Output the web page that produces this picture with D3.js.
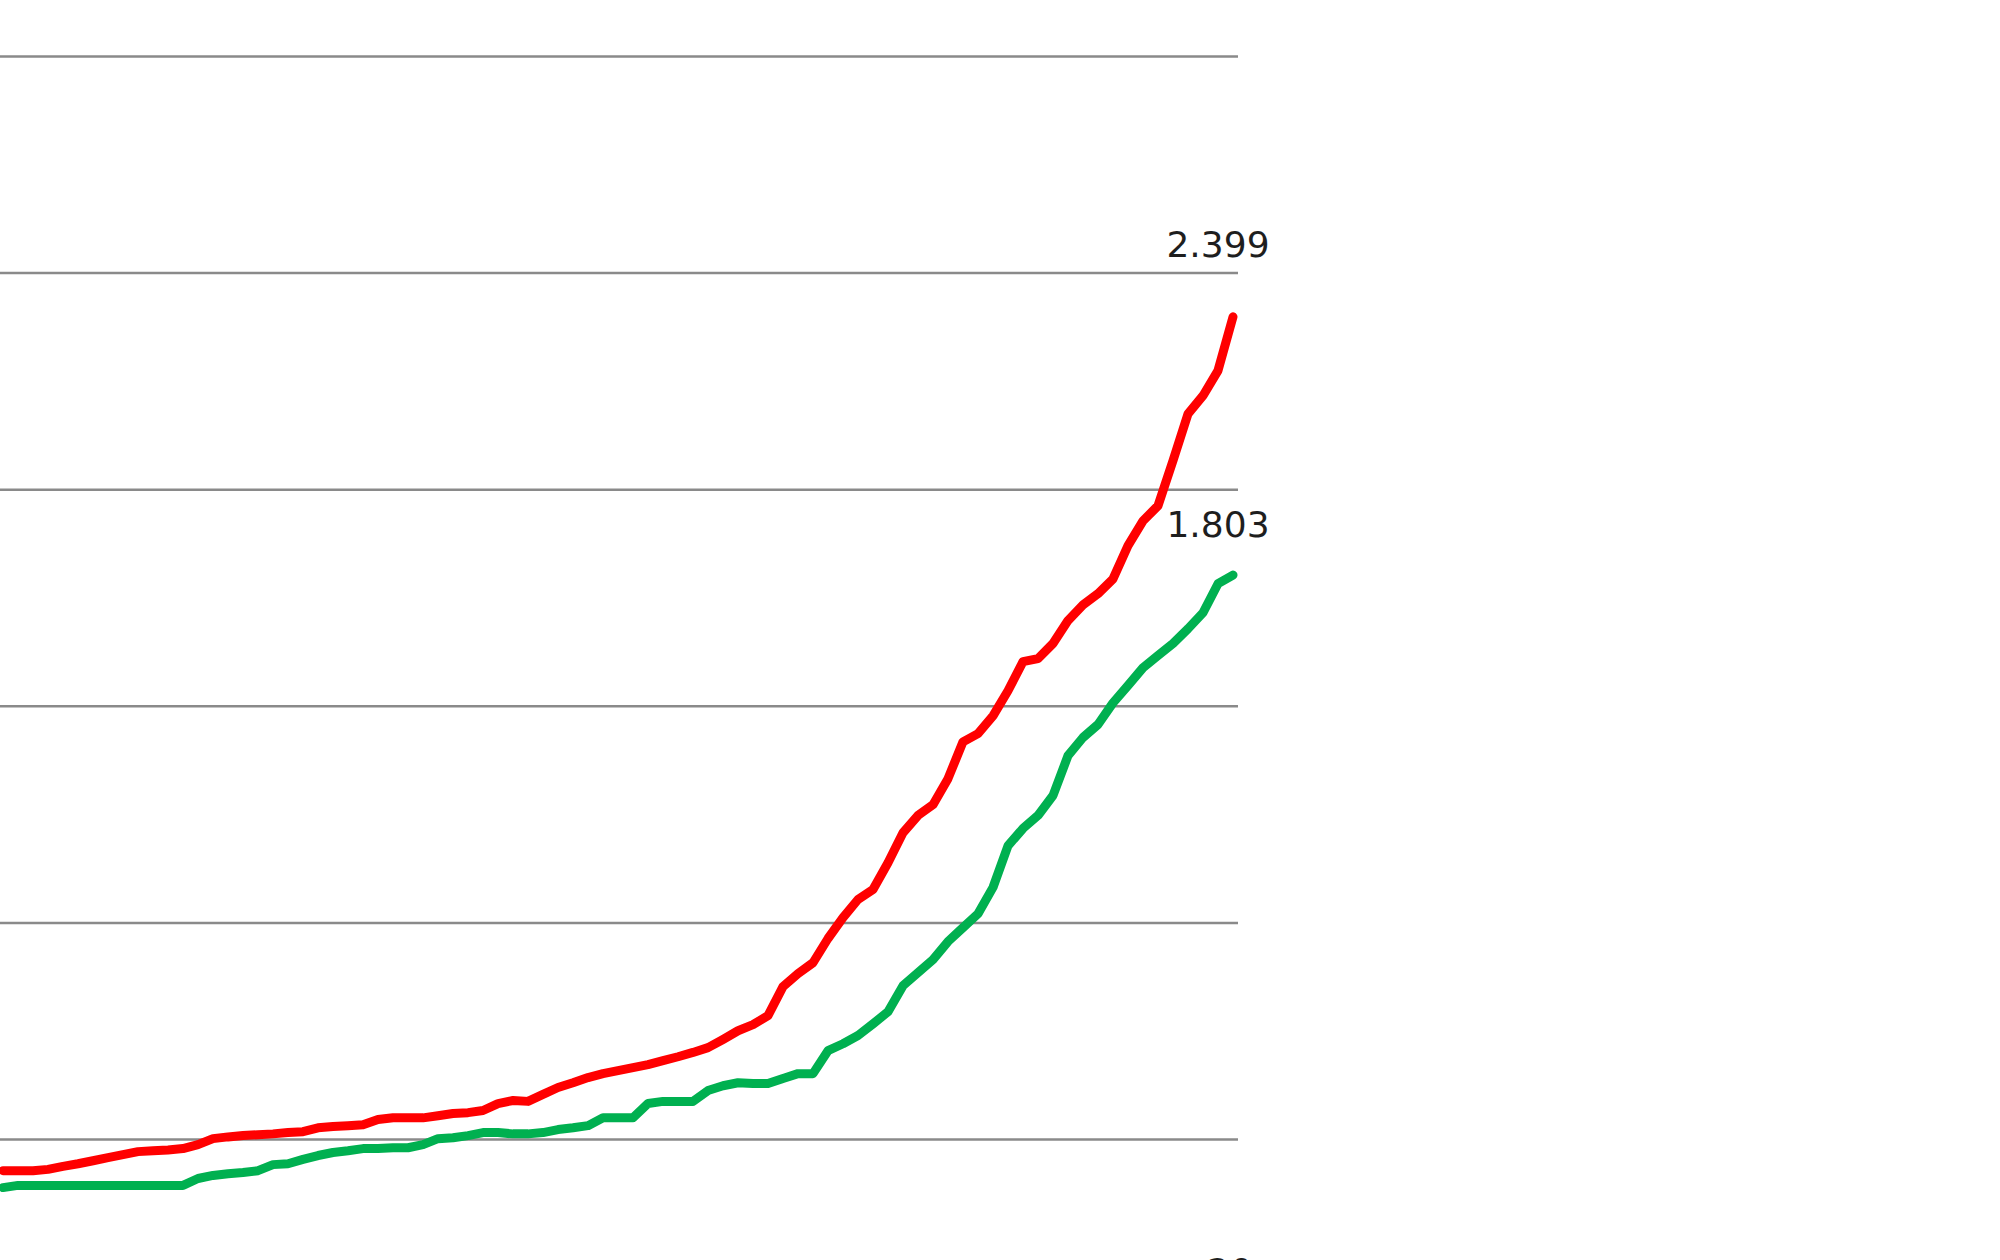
<!DOCTYPE html>
<html>
<head>
<meta charset="utf-8">
<script src="https://cdn.jsdelivr.net/npm/d3@7"></script>
<style>
  html, body { margin: 0; padding: 0; background: #ffffff; }
  svg { display: block; }
</style>
</head>
<body>
<svg id="chart" width="2000" height="1260"></svg>
<script>
// ---- data ----
const gridValues = [0.5, 1.0, 1.5, 2.0, 2.5, 3.0];

const redValues = [
  0.428, 0.428, 0.428, 0.431, 0.438, 0.444, 0.451, 0.458, 0.465, 0.472,
  0.474, 0.476, 0.479, 0.488, 0.502, 0.506, 0.509, 0.511, 0.513, 0.516,
  0.518, 0.527, 0.530, 0.532, 0.534, 0.546, 0.550, 0.550, 0.550, 0.555,
  0.560, 0.562, 0.567, 0.583, 0.590, 0.588, 0.604, 0.620, 0.631, 0.643,
  0.652, 0.659, 0.666, 0.673, 0.682, 0.691, 0.701, 0.712, 0.731, 0.751,
  0.765, 0.786, 0.853, 0.883, 0.908, 0.964, 1.012, 1.054, 1.077, 1.139,
  1.208, 1.248, 1.273, 1.333, 1.418, 1.437, 1.478, 1.536, 1.603, 1.610,
  1.645, 1.698, 1.734, 1.760, 1.794, 1.871, 1.928, 1.963, 2.067, 2.175,
  2.217, 2.275, 2.399
];

const greenValues = [
  0.389, 0.394, 0.394, 0.394, 0.394, 0.394, 0.394, 0.394, 0.394, 0.394,
  0.394, 0.394, 0.394, 0.410, 0.417, 0.421, 0.424, 0.428, 0.442, 0.444,
  0.454, 0.463, 0.470, 0.474, 0.479, 0.479, 0.481, 0.481, 0.488, 0.502,
  0.504, 0.509, 0.516, 0.516, 0.513, 0.513, 0.516, 0.523, 0.527, 0.532,
  0.550, 0.550, 0.550, 0.583, 0.588, 0.588, 0.588, 0.613, 0.624, 0.631,
  0.629, 0.629, 0.641, 0.652, 0.652, 0.705, 0.721, 0.740, 0.767, 0.795,
  0.855, 0.885, 0.915, 0.957, 0.989, 1.021, 1.082, 1.178, 1.218, 1.248,
  1.294, 1.386, 1.428, 1.458, 1.508, 1.548, 1.589, 1.617, 1.645, 1.679,
  1.716, 1.783, 1.803
];

const categories = redValues.map((d, i) => i);
const lastCategoryLabel = "20";

// ---- layout ----
const svg = d3.select("#chart");
const W = 2000, H = 1260;
svg.append("rect").attr("width", W).attr("height", H).attr("fill", "#ffffff");

const x = d3.scaleLinear()
  .domain([0, categories.length - 1])
  .range([3, 1233]);

const y = d3.scaleLinear()
  .domain([0.5, 3.0])
  .range([1139.5, 56.5]);

// gridlines
svg.append("g").selectAll("line")
  .data(gridValues)
  .join("line")
  .attr("x1", -10)
  .attr("x2", 1238)
  .attr("y1", d => y(d))
  .attr("y2", d => y(d))
  .attr("stroke", "#8a8a8a")
  .attr("stroke-width", 2.5);

const line = d3.line()
  .x((d, i) => x(categories[i]))
  .y(d => y(d));

const series = [
  { values: redValues, color: "#ff0000", labelDy: -60 },
  { values: greenValues, color: "#00b050", labelDy: -38 }
];

// draw green first so red is on top where they touch
[series[1], series[0]].forEach(s => {
  svg.append("path")
    .datum(s.values)
    .attr("d", line)
    .attr("fill", "none")
    .attr("stroke", s.color)
    .attr("stroke-width", 9)
    .attr("stroke-linejoin", "round")
    .attr("stroke-linecap", "round");
});

// end labels
series.forEach(s => {
  const last = s.values.length - 1;
  svg.append("text")
    .attr("x", x(categories[last]) - 15)
    .attr("y", y(s.values[last]) + s.labelDy)
    .attr("text-anchor", "middle")
    .attr("font-family", "'DejaVu Sans', Verdana, sans-serif")
    .attr("font-size", 36)
    .attr("fill", "#1e1e1e")
    .text(d3.format(".3f")(s.values[last]));
});

// x-axis label (mostly cut off at bottom, as in the reference)
svg.append("text")
  .attr("x", x(categories[categories.length - 1]) - 3)
  .attr("y", 1284)
  .attr("text-anchor", "middle")
  .attr("font-family", "'DejaVu Sans', Verdana, sans-serif")
  .attr("font-size", 36)
  .attr("fill", "#1e1e1e")
  .text(lastCategoryLabel);
</script>
</body>
</html>
